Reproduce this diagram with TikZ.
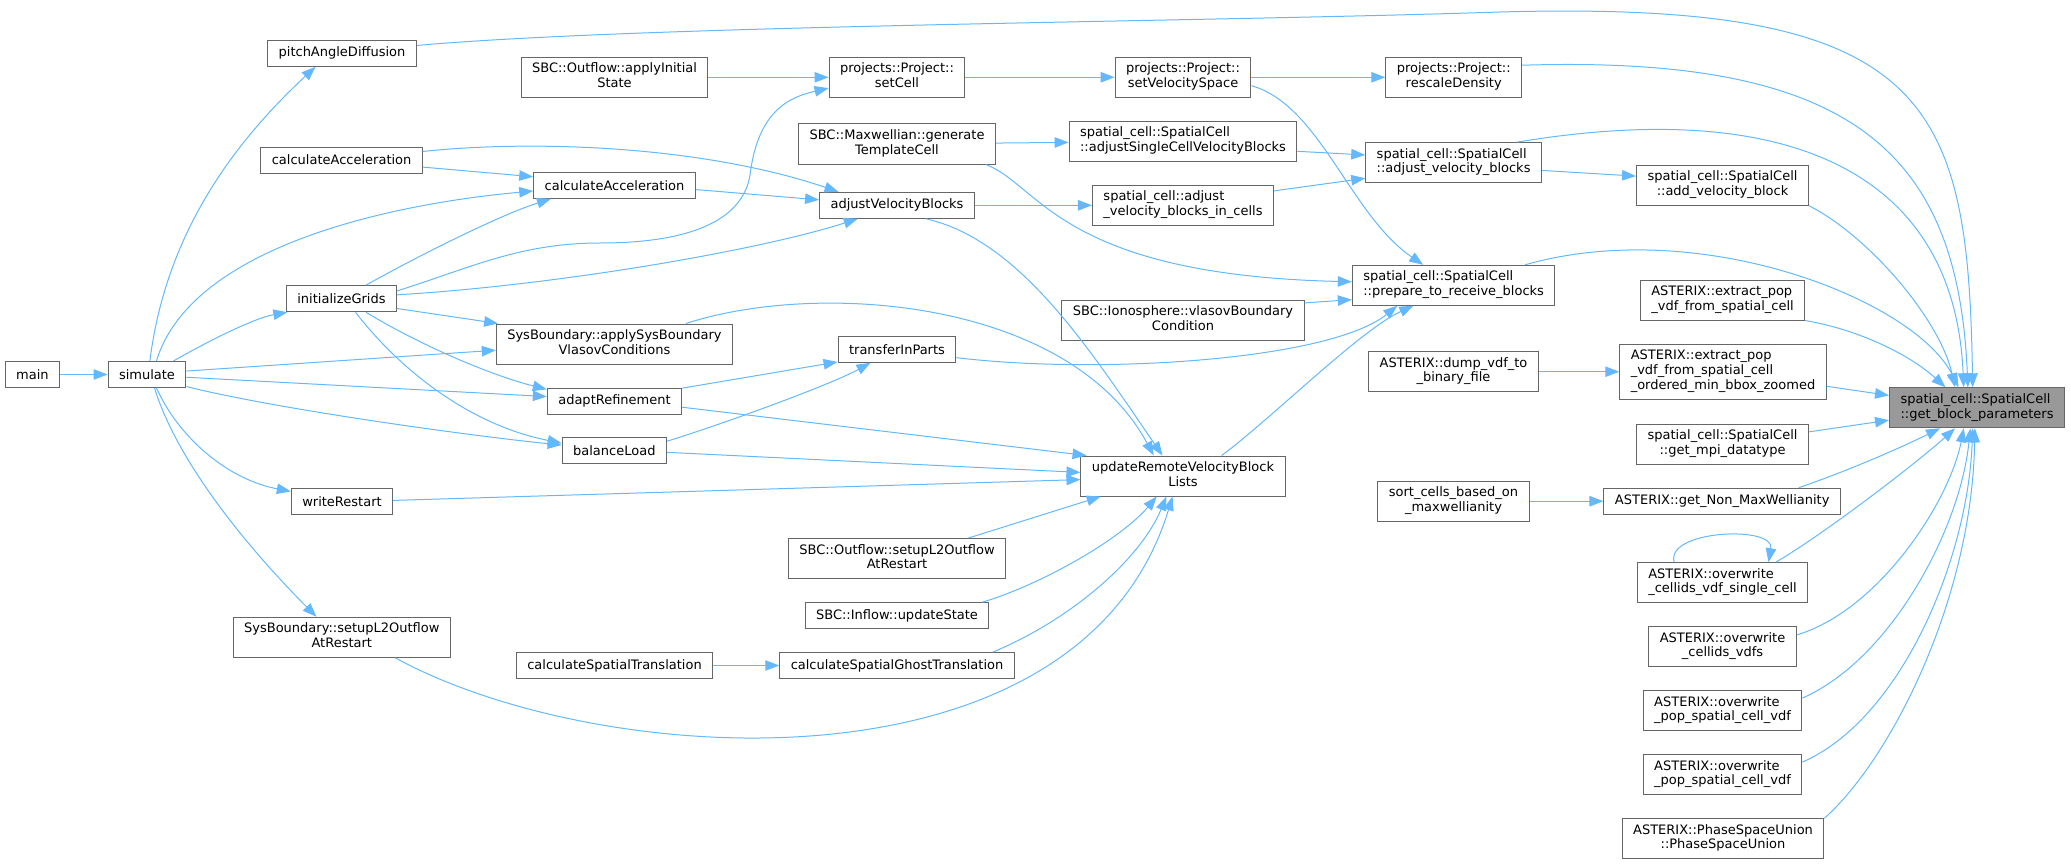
\documentclass[tikz,border=0pt]{standalone}
\usepackage{fontspec}
\setmainfont{DejaVu Sans}
\usetikzlibrary{arrows.meta}
\definecolor{edgeblue}{HTML}{63B8FF}
\definecolor{boxgray}{HTML}{666666}
\definecolor{focusgray}{HTML}{999999}
\newcommand{\twoline}[2]{\begin{tabular}{@{}l@{}}#1\\\multicolumn{1}{@{}c@{}}{#2}\end{tabular}}
\newcommand{\threeline}[3]{\begin{tabular}{@{}l@{}}#1\\#2\\\multicolumn{1}{@{}c@{}}{#3}\end{tabular}}
\tikzset{
  fbox/.style={draw=boxgray, fill=white, line width=1pt, inner xsep=11pt, inner ysep=0pt,
    minimum height=26pt, font=\fontsize{13}{14.7}\selectfont},
  fbox2/.style={fbox, minimum height=40pt},
  fbox3/.style={fbox, minimum height=55pt},
  focus/.style={fbox2, fill=focusgray},
  edge/.style={draw=edgeblue, line width=1pt, -{Triangle[length=14pt,width=10.5pt]}}
}
\begin{document}
\begin{tikzpicture}[x=1pt,y=1pt]
                    \useasboundingbox (0,0) rectangle (2071,-864);

                    % Drawing nodes, column of main and simulate
                    \node[fbox] (main) at (32.4,-374.5) {main};
                    \node[fbox] (simulate) at (147,-374.5) {simulate};

                    % Drawing nodes, column of initializeGrids
                    \node[fbox] (pitch) at (342,-53.3) {pitchAngleDiffusion};
                    \node[fbox] (calcAccA) at (341.6,-160) {calculateAcceleration};
                    \node[fbox] (initGrids) at (341.5,-298.7) {initializeGrids};
                    \node[fbox] (writeRestart) at (342,-501.3) {writeRestart};
                    \node[fbox2] (sbSetupL2) at (341.8,-637.3) {\twoline{SysBoundary::setupL2Outflow}{AtRestart}};

                    % Drawing nodes, column of adaptRefinement
                    \node[fbox2] (applyInit) at (614.5,-77.3) {\twoline{SBC::Outflow::applyInitial}{State}};
                    \node[fbox] (calcAccB) at (614.5,-185.3) {calculateAcceleration};
                    \node[fbox2] (sbApply) at (614.4,-344) {\twoline{SysBoundary::applySysBoundary}{VlasovConditions}};
                    \node[fbox] (adaptRef) at (614.5,-401.3) {adaptRefinement};
                    \node[fbox] (balanceLoad) at (614.3,-450.5) {balanceLoad};
                    \node[fbox] (calcSpatial) at (614.5,-665.5) {calculateSpatialTranslation};

                    % Drawing nodes, column of adjustVelocityBlocks
                    \node[fbox2] (setCell) at (897,-77.3) {\twoline{projects::Project::}{setCell}};
                    \node[fbox2] (genTemplate) at (897,-144) {\twoline{SBC::Maxwellian::generate}{TemplateCell}};
                    \node[fbox] (adjVB) at (897,-205.3) {adjustVelocityBlocks};
                    \node[fbox] (transfer) at (897,-349.3) {transferInParts};
                    \node[fbox2] (outflowL2) at (897,-558.5) {\twoline{SBC::Outflow::setupL2Outflow}{AtRestart}};
                    \node[fbox] (inflowUpd) at (897,-615.7) {SBC::Inflow::updateState};
                    \node[fbox] (calcGhost) at (897,-665.5) {calculateSpatialGhostTranslation};

                    % Drawing nodes, column of updateRemoteVelocityBlockLists
                    \node[fbox2] (setVelSpace) at (1183,-77.3) {\twoline{projects::Project::}{setVelocitySpace}};
                    \node[fbox2] (adjSingle) at (1183,-141.3) {\twoline{spatial\_cell::SpatialCell}{::adjustSingleCellVelocityBlocks}};
                    \node[fbox2] (adjInCells) at (1183,-205.3) {\twoline{spatial\_cell::adjust}{\_velocity\_blocks\_in\_cells}};
                    \node[fbox2] (vlasovBC) at (1183,-320) {\twoline{SBC::Ionosphere::vlasovBoundary}{Condition}};
                    \node[fbox2] (updRemote) at (1183,-476) {\twoline{updateRemoteVelocityBlock}{Lists}};

                    % Drawing nodes, column of prepare_to_receive_blocks
                    \node[fbox2] (rescale) at (1453.7,-77.3) {\twoline{projects::Project::}{rescaleDensity}};
                    \node[fbox2] (adjVelBlocks) at (1453.6,-162.7) {\twoline{spatial\_cell::SpatialCell}{::adjust\_velocity\_blocks}};
                    \node[fbox2] (prepRecv) at (1453.6,-285.3) {\twoline{spatial\_cell::SpatialCell}{::prepare\_to\_receive\_blocks}};
                    \node[fbox2] (dumpVdf) at (1453.5,-371.7) {\twoline{ASTERIX::dump\_vdf\_to}{\_binary\_file}};
                    \node[fbox2] (sortCells) at (1453.5,-501.2) {\twoline{sort\_cells\_based\_on}{\_maxwellianity}};

                    % Drawing nodes, column of direct callers
                    \node[fbox2] (addVB) at (1722.5,-185.2) {\twoline{spatial\_cell::SpatialCell}{::add\_velocity\_block}};
                    \node[fbox2] (extractPop) at (1722.5,-300) {\twoline{ASTERIX::extract\_pop}{\_vdf\_from\_spatial\_cell}};
                    \node[fbox3] (extractZoom) at (1723,-371.7) {\threeline{ASTERIX::extract\_pop}{\_vdf\_from\_spatial\_cell}{\_ordered\_min\_bbox\_zoomed}};
                    \node[fbox2] (getMpi) at (1722.5,-444) {\twoline{spatial\_cell::SpatialCell}{::get\_mpi\_datatype}};
                    \node[fbox] (getNonMax) at (1722.2,-501.2) {ASTERIX::get\_Non\_MaxWellianity};
                    \node[fbox2] (owSingle) at (1722.5,-582.7) {\twoline{ASTERIX::overwrite}{\_cellids\_vdf\_single\_cell}};
                    \node[fbox2] (owVdfs) at (1722.5,-646.7) {\twoline{ASTERIX::overwrite}{\_cellids\_vdfs}};
                    \node[fbox2] (owPopA) at (1722.5,-710.7) {\twoline{ASTERIX::overwrite}{\_pop\_spatial\_cell\_vdf}};
                    \node[fbox2] (owPopB) at (1722.5,-774.7) {\twoline{ASTERIX::overwrite}{\_pop\_spatial\_cell\_vdf}};
                    \node[fbox2] (psUnion) at (1723,-838.7) {\twoline{ASTERIX::PhaseSpaceUnion}{::PhaseSpaceUnion}};

                    % Drawing focus node
                    \node[focus] (getBlock) at (1977,-407.8) {\twoline{spatial\_cell::SpatialCell}{::get\_block\_parameters}};

                    % Drawing edges from main and simulate
                    \draw[edge] (main) -- (simulate);
                    \draw[edge] (simulate.78) .. controls (165,-240) and (227,-149) .. (pitch.207);
                    \draw[edge] (simulate.55) .. controls (190,-250) and (380,-205) .. (calcAccB.184);
                    \draw[edge] (simulate.27) .. controls (210,-340) and (255,-318) .. (initGrids.194);
                    \draw[edge] (simulate.5) -- (sbApply.183);
                    \draw[edge] (simulate.-4) -- (adaptRef.176);
                    \draw[edge] (simulate.-17) .. controls (280,-410) and (480,-437) .. (balanceLoad.174);
                    \draw[edge] (simulate.-55) .. controls (180,-440) and (230,-480) .. (writeRestart.169);
                    \draw[edge] (simulate.-61) .. controls (180,-470) and (260,-560) .. (sbSetupL2.141);

                    % Drawing edges from the column of initializeGrids
                    \draw[edge] (pitch.6) .. controls (650,-25) and (1200,-22) .. (1500,-12)
                                .. controls (1930,0) and (1968,-100) .. (getBlock.102);
                    \draw[edge] (calcAccA.-5) -- (calcAccB.174);
                    \draw[edge] (calcAccA.6) .. controls (530,-140) and (700,-145) .. (adjVB.167);
                    \draw[edge] (initGrids.29) .. controls (420,-255) and (500,-215) .. (calcAccB.192);
                    \draw[edge] (initGrids.8) .. controls (470,-268) and (520,-243) .. (600,-243)
                                .. controls (680,-243) and (742,-225) .. (750,-175)
                                .. controls (758,-110) and (790,-97) .. (setCell.189);
                    \draw[edge] (initGrids.4) .. controls (560,-285) and (760,-250) .. (adjVB.199);
                    \draw[edge] (initGrids.-10) -- (sbApply.170);
                    \draw[edge] (initGrids.-29) .. controls (420,-345) and (490,-375) .. (adaptRef.170);
                    \draw[edge] (initGrids.-44) .. controls (400,-370) and (470,-425) .. (balanceLoad.172);
                    \draw[edge] (writeRestart.1) -- (updRemote.182);
                    \draw[edge] (sbSetupL2.-21) .. controls (600,-770) and (1080,-800) .. (updRemote.243);

                    % Drawing edges from the column of adaptRefinement
                    \draw[edge] (applyInit) -- (setCell);
                    \draw[edge] (calcAccB.-3) -- (adjVB.176);
                    \draw[edge] (sbApply.16) .. controls (820,-280) and (1070,-300) .. (updRemote.145);
                    \draw[edge] (adaptRef.11) -- (transfer.192);
                    \draw[edge] (adaptRef.-5) -- (updRemote.168);
                    \draw[edge] (balanceLoad.10) .. controls (720,-425) and (830,-385) .. (transfer.207);
                    \draw[edge] (balanceLoad.-2) -- (updRemote.178);
                    \draw[edge] (calcSpatial) -- (calcGhost);

                    % Drawing edges from the column of adjustVelocityBlocks
                    \draw[edge] (setCell) -- (setVelSpace);
                    \draw[edge] (genTemplate) -- (adjSingle);
                    \draw[edge] (genTemplate.-13) .. controls (1040,-185) and (1060,-275) .. (prepRecv.178);
                    \draw[edge] (adjVB) -- (adjInCells);
                    \draw[edge] (adjVB.-25) .. controls (1020,-240) and (1090,-350) .. (updRemote.135);
                    \draw[edge] (transfer.-8) .. controls (1100,-375) and (1330,-360) .. (prepRecv.200);
                    \draw[edge] (outflowL2.16) -- (updRemote.194);
                    \draw[edge] (inflowUpd.9) .. controls (1040,-585) and (1120,-540) .. (updRemote.218);
                    \draw[edge] (calcGhost.8) .. controls (1070,-620) and (1140,-560) .. (updRemote.231);

                    % Drawing edges from the column of updateRemoteVelocityBlockLists
                    \draw[edge] (setVelSpace) -- (rescale);
                    \draw[edge] (setVelSpace.-7) .. controls (1320,-105) and (1350,-215) .. (prepRecv.146);
                    \draw[edge] (adjSingle.-5) -- (adjVelBlocks.175);
                    \draw[edge] (adjInCells.9) -- (adjVelBlocks.190);
                    \draw[edge] (vlasovBC.8) -- (prepRecv.188);
                    \draw[edge] (updRemote.28) .. controls (1270,-420) and (1360,-330) .. (prepRecv.207);

                    % Drawing edges from the column of prepare_to_receive_blocks
                    \draw[edge] (rescale.10) .. controls (1850,-55) and (1958,-150) .. (getBlock.114);
                    \draw[edge] (adjVelBlocks.-5) -- (addVB.174);
                    \draw[edge] (adjVelBlocks.18) .. controls (1800,-95) and (1955,-180) .. (getBlock.123);
                    \draw[edge] (prepRecv.16) .. controls (1700,-215) and (1915,-300) .. (getBlock.132);
                    \draw[edge] (dumpVdf) -- (extractZoom);
                    \draw[edge] (sortCells) -- (getNonMax);

                    % Drawing edges into get_block_parameters
                    \draw[edge] (addVB.south east) .. controls (1870,-237) and (1940,-320) .. (getBlock.137);
                    \draw[edge] (extractPop.south east) .. controls (1860,-330) and (1910,-355) .. (getBlock.147);
                    \draw[edge] (extractZoom.-8) -- (getBlock.172);
                    \draw[edge] (getMpi.8) -- (getBlock.188);
                    \draw[edge] (getNonMax.10) .. controls (1850,-470) and (1900,-448) .. (getBlock.209);
                    \draw[edge] (owSingle.21) .. controls (1830,-530) and (1920,-460) .. (getBlock.223);
                    \draw[edge] (owSingle.157) .. controls (1665,-530) and (1775,-525) .. (owSingle.24);
                    \draw[edge] (owVdfs.9) .. controls (1880,-610) and (1950,-500) .. (getBlock.237);
                    \draw[edge] (owPopA.9) .. controls (1890,-660) and (1960,-530) .. (getBlock.252);
                    \draw[edge] (owPopB.9) .. controls (1900,-720) and (1968,-560) .. (getBlock.258);
                    \draw[edge] (psUnion.north east) .. controls (1890,-760) and (1972,-600) .. (getBlock.264);
\end{tikzpicture}
\end{document}
